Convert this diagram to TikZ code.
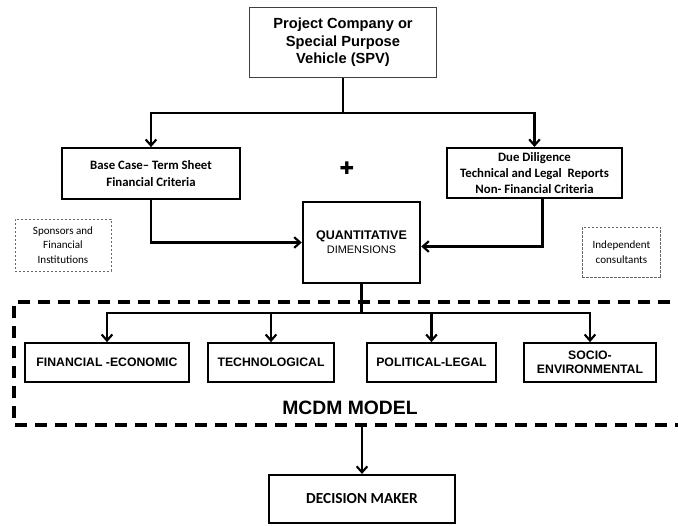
\documentclass[tikz,border=0pt]{standalone}
\usepackage{fontspec}
\setmainfont{Liberation Sans}
\newfontfamily\calibri{Carlito}
\newfontfamily\dejavu{DejaVu Sans}
\usetikzlibrary{arrows.meta,positioning}
\tikzstyle{box}=[draw, line width=1.6pt, align=center, inner sep=0pt]
\tikzstyle{catbox}=[box, minimum height=29pt, font=\bfseries\fontsize{9.2}{11}\selectfont]
\tikzstyle{note}=[draw=black!60, line width=0.7pt, dash pattern=on 1.8pt off 1.2pt, align=center, inner sep=0pt, font=\calibri\fontsize{8.3}{11}\selectfont]
\tikzstyle{arr}=[line width=1.6pt, -{Straight Barb[length=4.5pt,width=8pt]}]
\tikzstyle{line}=[line width=1.6pt]

\begin{document}
\begin{tikzpicture}[x=0.75pt,y=-0.75pt]
            \useasboundingbox (0,0) rectangle (678,525);
            % upper part
            \node[box, line width=0.8pt, draw=black!75, minimum width=140pt, minimum height=52pt,
                  font=\bfseries\fontsize{11}{13.2}\selectfont] (spv) at (343,42.5)
                  {Project Company or\\Special Purpose\\Vehicle (SPV)};
            \node[box, minimum width=133.5pt, minimum height=38pt,
                  font=\calibri\bfseries\fontsize{9.6}{12.5}\selectfont] (base) at (151,173.5)
                  {Base Case– Term Sheet\\Financial Criteria};
            \node[box, minimum width=131pt, minimum height=37.5pt,
                  font=\calibri\bfseries\fontsize{9.6}{12}\selectfont] (due) at (534.5,173)
                  {Due Diligence\\Technical and Legal~ Reports\\Non- Financial Criteria};
            \node[font=\dejavu\fontsize{13}{13}\selectfont] (plus) at (347,168) {✚};
            \node[box, minimum width=88pt, minimum height=61pt,
                  font=\fontsize{8.2}{10.5}\selectfont] (quant) at (361.5,242.5)
                  {{\bfseries\fontsize{9.4}{10.5}\selectfont QUANTITATIVE}\\DIMENSIONS};
            \node[note, minimum width=72pt, minimum height=39pt] (sponsors) at (63,245)
                  {Sponsors and\\Financial\\Institutions};
            \node[note, minimum width=59pt, minimum height=38pt] (consult) at (621.5,252.5)
                  {Independent\\consultants};
            % MCDM model
            \draw[line width=2.4pt, dash pattern=on 9pt off 6pt] (690,302) -- (14,302) -- (14,425) -- (690,425);
            \node[catbox, minimum width=123pt] (fin) at (107,362.5) {FINANCIAL -ECONOMIC};
            \node[catbox, minimum width=94.5pt] (tech) at (271,362.5) {TECHNOLOGICAL};
            \node[catbox, minimum width=97pt] (pol) at (431.5,362.5) {POLITICAL-LEGAL};
            \node[catbox, minimum width=99pt, font=\bfseries\fontsize{9.2}{10.5}\selectfont] (socio) at (590,362.5) {SOCIO-\\ENVIRONMENTAL};
            \node[font=\bfseries\fontsize{14.5}{16}\selectfont] (mcdm) at (350,408) {MCDM MODEL};
            \node[box, minimum width=140pt, minimum height=36pt,
                  font=\calibri\bfseries\fontsize{11.5}{13}\selectfont] (dec) at (362,499) {DECISION MAKER};
            % connectors
            \coordinate (split) at (343,113);
            \coordinate (branch) at (361.5,313);
            \coordinate (mcdmout) at (362,425);
            \draw[line] (spv.south) -- (split);
            \draw[arr] (split) -| (base.north);
            \draw[arr] (split) -| (due.north);
            \draw[arr] (base.south) |- (quant.west);
            \draw[arr] ([xshift=6pt]due.south) |- ([yshift=-3pt]quant.east);
            \draw[line] (quant.south) -- (branch);
            \foreach \c in {fin,tech,pol,socio}
                \draw[arr] (branch) -| (\c.north);
            \draw[arr] (mcdmout) -- (dec.north);
\end{tikzpicture}
\end{document}
